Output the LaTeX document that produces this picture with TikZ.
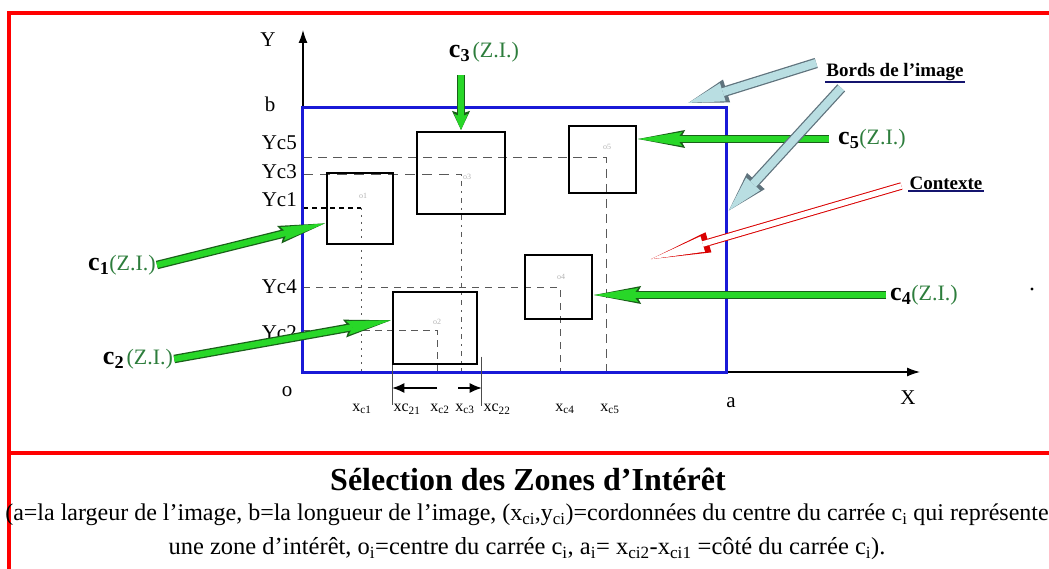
\documentclass[tikz,border=0pt]{standalone}
\usepackage{fontspec}
\setmainfont{Liberation Serif}
\usetikzlibrary{positioning,arrows.meta}
\definecolor{zigreen}{RGB}{40,215,40}
\definecolor{zidark}{RGB}{25,95,25}
\definecolor{zitext}{RGB}{45,125,60}
\definecolor{bordfill}{RGB}{185,222,226}
\definecolor{bordline}{RGB}{95,115,125}
\definecolor{imgblue}{RGB}{25,25,215}
\definecolor{navy}{RGB}{20,20,110}
\newcommand{\zilab}[2]{{\fontsize{26}{26}\selectfont\bfseries c\textsubscript{#1}}#2{\fontsize{22}{22}\selectfont\color{zitext}(Z.I.)}}

\begin{document}
\begin{tikzpicture}[
  x=1pt,y=-1pt,
  line join=miter,
  >=Latex,
  zone/.style={draw=black,line width=1.3pt,inner sep=0pt},
  tag/.style={inner sep=1pt,font=\fontsize{21}{21}\selectfont},
  xtag/.style={inner sep=0pt,font=\fontsize{16}{16}\selectfont},
  otag/.style={inner sep=0pt,text=black!30,font=\fontsize{8}{8}\selectfont},
  note/.style={inner sep=1pt,font=\fontsize{19}{19}\selectfont\bfseries},
  axis/.style={->,line width=1.2pt,>={Latex[length=13pt,width=9pt]}},
  guide/.style={black!65,line width=0.9pt},
  zarrow/.style={draw=zigreen,line width=6pt,shorten >=1.5pt,
    -{Stealth[length=44pt,width=14pt,inset=5pt,line width=0pt]},
    preaction={draw=zidark,line width=8.5pt,
      -{Stealth[length=47pt,width=18pt,inset=5pt,line width=0pt]}}},
  zarrowshort/.style={draw=zigreen,line width=6pt,shorten >=1.5pt,
    -{Stealth[length=16pt,width=14pt,inset=3pt,line width=0pt]},
    preaction={draw=zidark,line width=8.5pt,
      -{Stealth[length=19pt,width=18pt,inset=3pt,line width=0pt]}}},
  bordarrow/.style={draw=bordfill,line width=8pt,shorten >=2pt,
    -{Triangle[length=36pt,width=19pt,line width=0pt]},
    preaction={draw=bordline,line width=10.5pt,
      -{Triangle[length=40pt,width=24pt,line width=0pt]}}},
  ctxarrow/.style={draw=white,line width=5.5pt,shorten >=3pt,
    -{Triangle[length=54pt,width=16pt,line width=0pt]},
    preaction={draw=red!85!black,line width=7.5pt,
      -{Triangle[length=60pt,width=21pt,line width=0pt]}}}
]
  \path[use as bounding box] (0,0) rectangle (1049,569);

  % cadre
  \draw[red,line width=4pt] (9,569) -- (9,13) -- (1049,13);
  \draw[red,line width=4.5pt] (9,453) -- (1049,453);

  % axes
  \coordinate (O) at (303,372);
  \coordinate (ytip) at (303,30);
  \coordinate (xtip) at (920,372);
  \draw[axis] (O) -- (ytip);
  \draw[axis] (O) -- (xtip);
  \node[tag] (Ylab) at (268,40) {Y};
  \node[tag] (Xlab) at (908,398) {X};
  \node[tag] (olab) at (287,392) {o};
  \node[tag] (alab) at (731,403) {a};
  \node[tag] (blab) at (270,104) {b};

  % centres des carres
  \coordinate (ctr1) at (361,208);
  \coordinate (ctr2) at (437,330);
  \coordinate (ctr3) at (461,174);
  \coordinate (ctr4) at (560,287);
  \coordinate (ctr5) at (606,157);

  \draw[guide,dash pattern=on 9pt off 6pt] (O |- ctr5) -- (ctr5) -- (ctr5 |- O);
  \draw[guide,dash pattern=on 10pt off 7pt] (O |- ctr3) -- (ctr3);
  \draw[guide,dash pattern=on 2pt off 5pt on 5pt off 5pt] (ctr3) -- (ctr3 |- O);
  \draw[guide,black,line width=1.3pt,dash pattern=on 5pt off 4pt] (O |- ctr1) -- (ctr1);
  \draw[guide,dash pattern=on 2pt off 5pt] (ctr1) -- (ctr1 |- O);
  \draw[guide,dash pattern=on 7pt off 6pt] (O |- ctr4) -- (ctr4) -- (ctr4 |- O);
  \draw[guide,dash pattern=on 7pt off 5pt] (O |- ctr2) -- (ctr2) -- (ctr2 |- O);

  \foreach \n/\y in {5/143,3/172,1/200,4/287,2/333} {
    \node[tag,anchor=east] (yc\n) at (298,\y) {Yc\n};
  }

  % zones d'interet
  \foreach \n/\x/\y/\w/\h in {1/360/208.5/66/71,2/435/328/84/72,3/461/173/88/82,4/558.5/287/67/64,5/602.5/159.5/67/67} {
    \node[zone,minimum width=\w pt,minimum height=\h pt] (sq\n) at (\x,\y) {};
  }
  \foreach \n/\x/\y in {1/363/196,2/437/322,3/467/177,4/561/277,5/607/147} {
    \node[otag] (o\n) at (\x,\y) {o\n};
  }

  % bords de l'image
  \node[draw=imgblue,line width=3pt,inner sep=0pt,minimum width=424pt,minimum height=264pt] (img) at (514,240) {};

  % cotes du carre c2
  \draw[black!70,line width=0.9pt] (sq2.south west) -- ++(0,40);
  \draw[black!70,line width=0.9pt] ([xshift=4pt,yshift=8pt]sq2.south east) -- ++(0,49);
  \coordinate (c2mid) at (437,388);
  \coordinate (c2mid2) at (458,388);
  \draw[->,line width=1.2pt,>={Latex[length=12pt,width=10pt]}] (c2mid) -- (c2mid -| sq2.west);
  \draw[->,line width=1.2pt,>={Latex[length=12pt,width=10pt]}] (c2mid2) -- ([xshift=4pt]c2mid2 -| sq2.east);

  \foreach \t/\x in {{x\textsubscript{c1}}/362,{xc\textsubscript{21}}/407,{x\textsubscript{c2}}/440,{x\textsubscript{c3}}/465,{xc\textsubscript{22}}/497,{x\textsubscript{c4}}/565,{x\textsubscript{c5}}/610} {
    \node[xtag] at (\x,409) {\t};
  }

  % etiquettes c_i
  \node[inner sep=1pt] (lab1) at (122,265) {\zilab{1}{}};
  \node[inner sep=1pt] (lab2) at (138,359) {\zilab{2}{ }};
  \node[inner sep=1pt] (lab3) at (484,52) {\zilab{3}{ }};
  \node[inner sep=1pt] (lab4) at (924,295) {\zilab{4}{}};
  \node[inner sep=1pt] (lab5) at (872,139) {\zilab{5}{}};

  \draw[zarrow] (lab1.east) -- ([yshift=-14.5pt]sq1.west);
  \draw[zarrow] (lab2.east) -- ([yshift=8pt]sq2.west);
  \draw[zarrowshort,shorten <=12pt] (lab3.south -| sq3.north) -- (sq3.north);
  \draw[zarrow,shorten <=8pt] (lab5.west) -- (lab5.west -| sq5.east);
  \draw[zarrow,shorten <=3pt] (lab4.west) -- (lab4.west -| sq4.east);

  % legendes
  \node[note] (bords) at (895,72) {Bords de l’image};
  \draw[navy,line width=2pt] (bords.south west) -- (bords.south east);
  \node[note] (ctx) at (946,183) {Contexte};
  \draw[navy,line width=2pt] (ctx.south west) -- (ctx.south east);
  \coordinate (ctxtip) at (648,260);

  \draw[bordarrow] ([xshift=-9pt,yshift=9pt]bords.west) -- ([xshift=-41pt,yshift=3pt]img.north east);
  \draw[bordarrow] ([xshift=16pt,yshift=-6pt]bords.south west) -- ([yshift=28pt]img.east);
  \draw[ctxarrow] ([xshift=-7pt,yshift=-3pt]ctx.west) -- (ctxtip);

  \fill (1032,289) circle (1.6);

  % legende du bas
  \node[inner sep=0pt,font=\fontsize{32}{32}\selectfont\bfseries] (titre) at (528,479) {Sélection des Zones d’Intérêt};
  \node[inner sep=0pt,font=\fontsize{24}{24}\selectfont] (ligne1) at (527,515) {(a=la largeur de l’image, b=la longueur de l’image, (x\textsubscript{ci},y\textsubscript{ci})=cordonnées du centre du carrée c\textsubscript{i} qui représente};
  \node[inner sep=0pt,font=\fontsize{24.5}{24.5}\selectfont] (ligne2) at (527,549) {une zone d’intérêt, o\textsubscript{i}=centre du carrée c\textsubscript{i}, a\textsubscript{i}= x\textsubscript{ci2}-x\textsubscript{ci1} =côté du carrée c\textsubscript{i}).};
\end{tikzpicture}
\end{document}
